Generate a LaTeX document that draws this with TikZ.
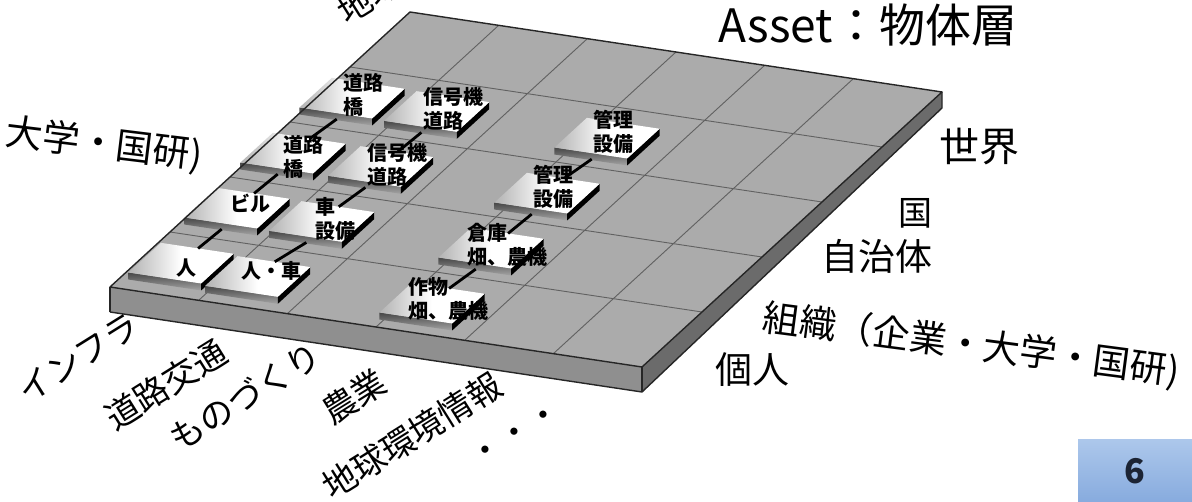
\documentclass[tikz,border=0pt]{standalone}
\usepackage{fontspec}
\setmainfont{Noto Sans CJK JP}
\definecolor{pagebluetop}{RGB}{172,199,235}
\definecolor{pageblue}{RGB}{135,171,222}
\definecolor{numink}{RGB}{28,36,52}
% #1 column, #2 row, #3 name, #4 horizontal offset (px)
\newcommand\tileblock[4]{%
 \begin{scope}[shift={(#1,#2)},xshift=#4pt]
  \shade[top color=black!72,bottom color=black!36]
    (0.1,0.16) -- (0.92,0.16) -- ([yshift=7pt]0.92,0.16) -- ([yshift=7pt]0.1,0.16) -- cycle;
  \fill[black] (0.92,0.16) -- (0.92,0.7) -- ([yshift=7pt]0.92,0.7) -- ([yshift=7pt]0.92,0.16) -- cycle;
  \shade[left color=black!30,right color=white,middle color=white]
    ([yshift=7pt]0.1,0.16) -- ([yshift=7pt]0.92,0.16) -- ([yshift=7pt]0.92,0.7) -- ([yshift=7pt]0.1,0.7) -- cycle;
  \coordinate (#3f) at ([yshift=1pt]0.52,0.16);
  \coordinate (#3b) at ([yshift=7pt]0.52,0.7);
 \end{scope}}
\begin{document}
\begin{tikzpicture}[x=1pt,y=-1pt,
  lbl/.style={inner sep=0pt,font=\fontsize{35}{40}\selectfont},
  ttext/.style={inner sep=0pt,align=left,font=\bfseries\fontsize{20}{24}\selectfont},
  gridline/.style={black!62,line width=0.9pt},
  slabedge/.style={black!85,line width=1.4pt,line join=round},
  link/.style={black,line width=2.8pt},
  plane/.style={x={(88.667pt,-13.333pt)},y={(60pt,55pt)},shift={(110pt,-287pt)}},
]
\useasboundingbox (0,0) rectangle (1192,502);
\clip (0,0) rectangle (1192,502);
\fill[white] (0,0) rectangle (1192,502);

% slab
\coordinate (FL) at (110,287);
\coordinate (FR) at (642,367);
\coordinate (BR) at (942,92);
\coordinate (BL) at (410,12);
\coordinate (FLd) at (110,312);
\coordinate (FRd) at (642,392);
\coordinate (BRd) at (942,108);
\fill[black!44] (FL) -- (FR) -- (FRd) -- (FLd) -- cycle;
\fill[black!58] (FR) -- (BR) -- (BRd) -- (FRd) -- cycle;
\fill[black!33] (FL) -- (FR) -- (BR) -- (BL) -- cycle;

\begin{scope}[plane]
  \foreach \i in {1,...,5} \draw[gridline] (\i,0) -- (\i,5);
  \foreach \j in {1,...,4} \draw[gridline] (0,\j) -- (6,\j);
  \tileblock{0}{0}{t00}{0}
  \tileblock{0}{1}{t01}{-4}
  \tileblock{0}{2}{t02}{-8}
  \tileblock{0}{3}{t03}{-9}
  \tileblock{1}{0}{t10}{-12}
  \tileblock{1}{1}{t11}{-8}
  \tileblock{1}{2}{t12}{-9}
  \tileblock{1}{3}{t13}{-13}
  \tileblock{3}{0}{t30}{-15}
  \tileblock{3}{1}{t31}{-16}
  \tileblock{3}{2}{t32}{-20}
  \tileblock{3}{3}{t33}{-20}
\end{scope}

\draw[slabedge] (FL) -- (FR) -- (BR) -- (BL) -- cycle;
\draw[slabedge] (FLd) -- (FRd) -- (BRd) -- (BR);
\draw[slabedge] (FL) -- (FLd);
\draw[slabedge] (FR) -- (FRd);

% connectors
\foreach \c in {0,1,3}{
  \draw[link] (t\c0b) -- (t\c1f);
  \draw[link] (t\c1b) -- (t\c2f);
  \draw[link] (t\c2b) -- (t\c3f);
}

% tile labels
\node[ttext] (l00) at (186,268) {人};
\node[ttext] (l10) at (271,271) {人・車};
\node[ttext] (l01) at (250,203) {ビル};
\node[ttext,anchor=north west] (l11) at (315,197) {車\\設備};
\node[ttext,anchor=north west] (l02) at (283,135) {道路\\橋};
\node[ttext,anchor=north west] (l12) at (367,143) {信号機\\道路};
\node[ttext,anchor=north west] (l03) at (343,73) {道路\\橋};
\node[ttext,anchor=north west] (l13) at (423,87) {信号機\\道路};
\node[ttext,anchor=north west] (l30) at (408,277) {作物\\畑、農機};
\node[ttext,anchor=north west] (l31) at (467,223) {倉庫\\畑、農機};
\node[ttext,anchor=north west] (l32) at (533,165) {管理\\設備};
\node[ttext,anchor=north west] (l33) at (593,110) {管理\\設備};

% title
\node[inner sep=0pt,font=\fontsize{46}{50}\selectfont] (title) at (868,25) {Asset：物体層};

% row labels
\node[lbl,font=\fontsize{40}{44}\selectfont] (r5) at (979,147) {世界};
\node[lbl,font=\fontsize{34}{40}\selectfont] (r4) at (915,213) {国};
\node[lbl,font=\fontsize{37}{40}\selectfont] (r3) at (877,256) {自治体};
\node[lbl,font=\fontsize{37}{40}\selectfont,anchor=west,rotate=-7.5] (r2) at (763,318) {組織（企業・大学・国研)};
\node[lbl,font=\fontsize{37}{40}\selectfont] (r1) at (752,370) {個人};
\node[lbl,font=\fontsize{37}{40}\selectfont,anchor=west,rotate=-7] (r2b) at (6,133) {大学・国研)};

% column labels
\node[lbl,font=\fontsize{34}{40}\selectfont,rotate=32] (c1) at (78,358) {インフラ};
\node[lbl,font=\fontsize{34}{40}\selectfont,rotate=32] (c2) at (166,385) {道路交通};
\node[lbl,font=\fontsize{34}{40}\selectfont,rotate=32] (c3) at (245,397) {ものづくり};
\node[lbl,font=\fontsize{34}{40}\selectfont,rotate=32] (c4) at (354,397) {農業};
\node[lbl,font=\fontsize{34}{40}\selectfont,rotate=32] (c5) at (412,436) {地球環境情報};
\node[lbl,font=\fontsize{34}{40}\selectfont,rotate=31] (c6) at (517,436) {・・・};
\node[lbl,font=\fontsize{34}{40}\selectfont,rotate=32,anchor=south west] (c0) at (349,28) {地球};

% page number
\shade[top color=pagebluetop,bottom color=pageblue] (1078,440) rectangle (1192,502);
\node[inner sep=0pt,font=\bfseries\fontsize{34}{38}\selectfont,text=numink] (pnum) at (1135,471) {6};
\end{tikzpicture}
\end{document}
